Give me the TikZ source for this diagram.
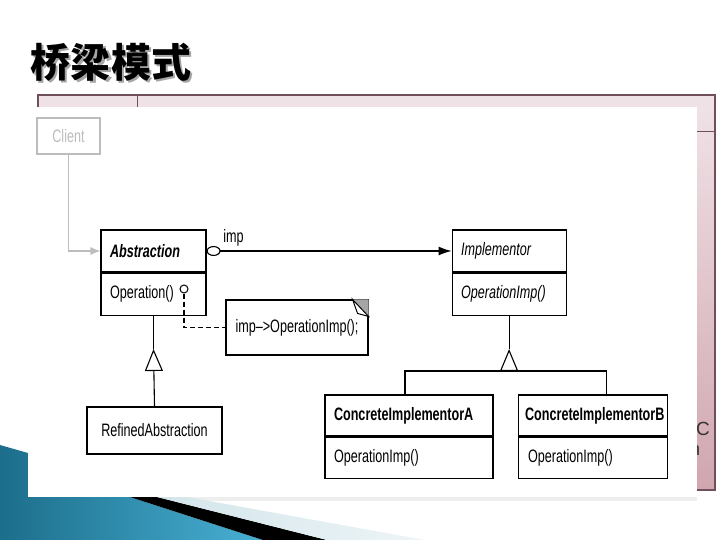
\documentclass[tikz,border=0pt]{standalone}
\usepackage{fontspec}
\usepackage{tikz}
\usetikzlibrary{arrows.meta, positioning}
\newfontfamily\umlfont[FakeStretch=0.7]{Liberation Sans}
\newfontfamily\cjkfont{Noto Sans CJK SC}
\newfontfamily\tblfont{Liberation Sans}
\definecolor{Frame}  {HTML}{6E4F5A}
\definecolor{PinkTop}{HTML}{F0E3E7}
\definecolor{PinkBot}{HTML}{D0A6AF}
\definecolor{Teal}   {HTML}{1C6E8B}
\definecolor{Sky}    {HTML}{48B0D4}
\definecolor{Mist}   {HTML}{D3E5EB}
\definecolor{Faint}  {HTML}{BDBDBD}
\tikzset{
  uml/.style={font=\umlfont\fontsize{18bp}{21bp}\selectfont},
  cls/.style={uml, draw, line width=1.1bp, minimum height=42bp, inner xsep=9bp,
              inner ysep=0pt, align=left},
  link/.style={line width=1.1bp},
  gen/.style={-{Triangle[open,length=22bp,width=18bp]}, line width=1.1bp},
  ttl/.style={font=\cjkfont\bfseries\fontsize{40bp}{44bp}\selectfont, inner sep=0pt}
}

\begin{document}
\begin{tikzpicture}[x=1bp, y=-1bp]
  \useasboundingbox (0,0) rectangle (720,540);
  \fill[Faint!25] (28,497) rectangle (697,501);
  \shade[left color=Teal, right color=Sky] (0,445) -- (28,453) -- (28,497) -- (130,497)
    -- (263,540) -- (0,540) -- cycle;
  \fill[black] (130,497) -- (157,497) -- (327,540) -- (263,540) -- cycle;
  \shade[left color=Mist, right color=Mist!40] (157,497) -- (187,497) -- (425,540)
    -- (327,540) -- cycle;
  \node[ttl, text=gray!70] (titleshadow) at (113,64) {桥梁模式};
  \node[ttl] (title) at (111,62) {桥梁模式};

  \shadedraw[top color=PinkTop, bottom color=PinkBot, draw=Frame, line width=1.2bp]
    (38,95) rectangle (715,490);
  \draw[Frame, line width=1bp] (38,132) -- (715,132) (137,95) -- (137,132);
  \node[font=\tblfont\fontsize{19bp}{22bp}\selectfont, text=black!80] (tblc) at (703,429) {C};
  \node[font=\tblfont\fontsize{19bp}{22bp}\selectfont, text=black!80] (tbln) at (695,450) {n};
  \fill[white] (28,107) rectangle (697,497);

  \node[cls, draw=Faint, text=Faint, minimum width=63bp, minimum height=36bp, align=center]
    (client) at (68.5,136) {Client};
  \node[cls, text width=87bp] (abs) at (153.5,251) {\textbf{\textit{Abstraction}}};
  \node[cls, text width=87bp, below=0pt of abs] (absop) {Operation()};
  \node[cls, text width=96bp, right=245bp of abs] (impl) {\textit{Implementor}};
  \node[cls, text width=96bp, below=0pt of impl] (implop) {\textit{OperationImp()}};
  \node[cls, minimum width=142bp, minimum height=55bp, align=center] (note) at (297,327.5)
    {imp–>OperationImp();};
  \node[cls, minimum width=135bp, minimum height=47bp, align=center] (refined) at (154.5,430.5)
    {RefinedAbstraction};
  \node[cls, text width=150bp, minimum height=41bp] (conA) at (409,415.5)
    {\textbf{ConcreteImplementorA}};
  \node[cls, text width=150bp, minimum height=41bp, below=0pt of conA] (conAop) {OperationImp()};
  \node[cls, text width=135bp, inner xsep=7bp, minimum height=41bp, right=24bp of conA] (conB)
    {\textbf{ConcreteImplementorB}};
  \node[cls, text width=135bp, inner xsep=7bp, minimum height=41bp, below=0pt of conB] (conBop)
    {\,OperationImp()};
  \node[circle, draw, line width=1bp, minimum size=8bp, inner sep=0pt] (opdot) at (184,289) {};

  \fill[gray!70] ([xshift=-16bp]note.north east) -- (note.north east)
    -- ([yshift=-17bp]note.north east) -- cycle;
  \draw[fill=white, line width=1bp] ([xshift=-16bp]note.north east)
    -- ([yshift=-17bp]note.north east) -- ([xshift=-11bp,yshift=-14bp]note.north east) -- cycle;

  \coordinate (gen1) at (absop.south |- 0,349);
  \coordinate (gen2) at (implop.south |- 0,349);
  \coordinate (bar) at (0,371);
  \coordinate (tapA) at ([xshift=-4bp]conA.north);
  \coordinate (tapB) at ([xshift=14bp]conB.north);

  \draw[link, Faint, -{Latex[length=10bp,width=8bp]}] (client.south) |- (abs.west);
  \draw[link, {Circle[open,length=14bp,width=10bp]}-{Latex[length=13bp,width=9bp]}]
    (abs) -- node[uml, pos=0.11, above=1bp] (implbl) {imp} (impl);
  \draw[link, dash pattern=on 5bp off 3bp] (opdot.south) |- (note.west);
  \draw[link] (absop.south) -- (gen1);
  \draw[gen] (refined.north) -- (gen1);
  \draw[link] (implop.south) -- (gen2);
  \draw[gen] (implop.south |- bar) -- (gen2);
  \draw[link, line width=1.5bp] (tapA) |- (tapB |- bar) -- (tapB);
\end{tikzpicture}
\end{document}
